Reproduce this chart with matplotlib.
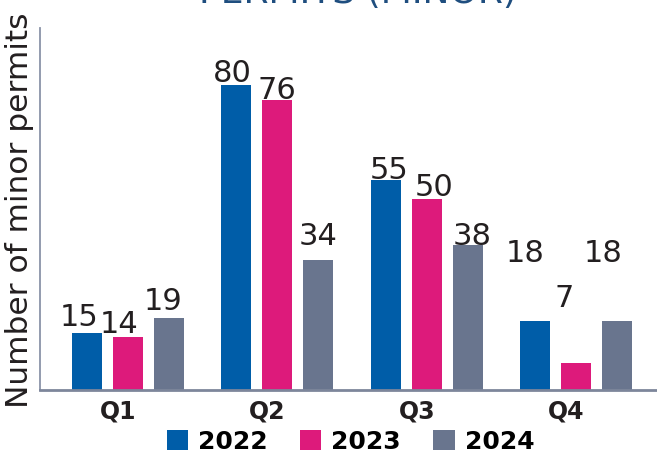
import numpy as np
import matplotlib
matplotlib.use("Agg")
import matplotlib.pyplot as plt
import matplotlib.transforms as mtransforms

# Data
quarters = ["Q1", "Q2", "Q3", "Q4"]
years = ["2022", "2023", "2024"]
permits_2022 = [15, 80, 55, 18]
permits_2023 = [14, 76, 50, 7]
permits_2024 = [19, 34, 38, 18]
colors = ["#005da8", "#dd1a7b", "#69758e"]

# label nudges (pixels) to mimic the hand placed labels of the original
label_dx = [[-8, -4, 3, -10], [-9, 0, 7, -12], [-6, 0, 4, -14]]
label_dy = [[8, 4, 2, 60], [5, 2, 4, 57], [9, 16, 1, 60]]

series = [permits_2022, permits_2023, permits_2024]

fig = plt.figure(figsize=(6.57, 4.56), dpi=100)
ax = fig.add_axes([0.0609, 0.1425, 0.9391, 0.7939])

x = np.arange(len(quarters))
width = 0.20
step = 0.274

for i, (vals, year) in enumerate(zip(series, years)):
    pos = x + (i - 1) * step
    ax.bar(pos, vals, width, color=colors[i], label=year)
    for j, v in enumerate(vals):
        ax.annotate(str(v), (pos[j], v), xytext=(label_dx[i][j], label_dy[i][j]),
                    textcoords="offset pixels", ha="center", va="baseline",
                    fontsize=22, color="#231f20")

ax.set_xlim(-0.587, 3.54)
ax.set_ylim(0, 95)
ax.set_yticks([])
ax.set_xticks(x)
ax.set_xticklabels(quarters, fontsize=17, fontweight="bold", color="#231f20")
ax.tick_params(axis="x", length=0, pad=6)
shift = mtransforms.ScaledTranslation(-0.10, 0, fig.dpi_scale_trans)
for lbl in ax.get_xticklabels():
    lbl.set_transform(lbl.get_transform() + shift)

ax.set_ylabel("Number of minor permits", fontsize=22.5, color="#231f20", labelpad=4)

for s in ["top", "right"]:
    ax.spines[s].set_visible(False)
ax.spines["left"].set_color("#8a93a8")
ax.spines["bottom"].set_color("#7d869b")
ax.spines["left"].set_linewidth(1.3)
ax.spines["bottom"].set_linewidth(2)

fig.legend(loc="center", bbox_to_anchor=(0.5335, 0.03), ncol=3, frameon=False,
           prop={"weight": "bold", "size": 18}, handlelength=0.85,
           handleheight=0.85, handletextpad=0.4, columnspacing=1.3, borderpad=0)

fig.text(0.545, 0.994, "PERMITS (MINOR)", ha="center", va="baseline",
         fontsize=26, color="#1f4e7f")

fig.savefig("out.png", dpi=100)
